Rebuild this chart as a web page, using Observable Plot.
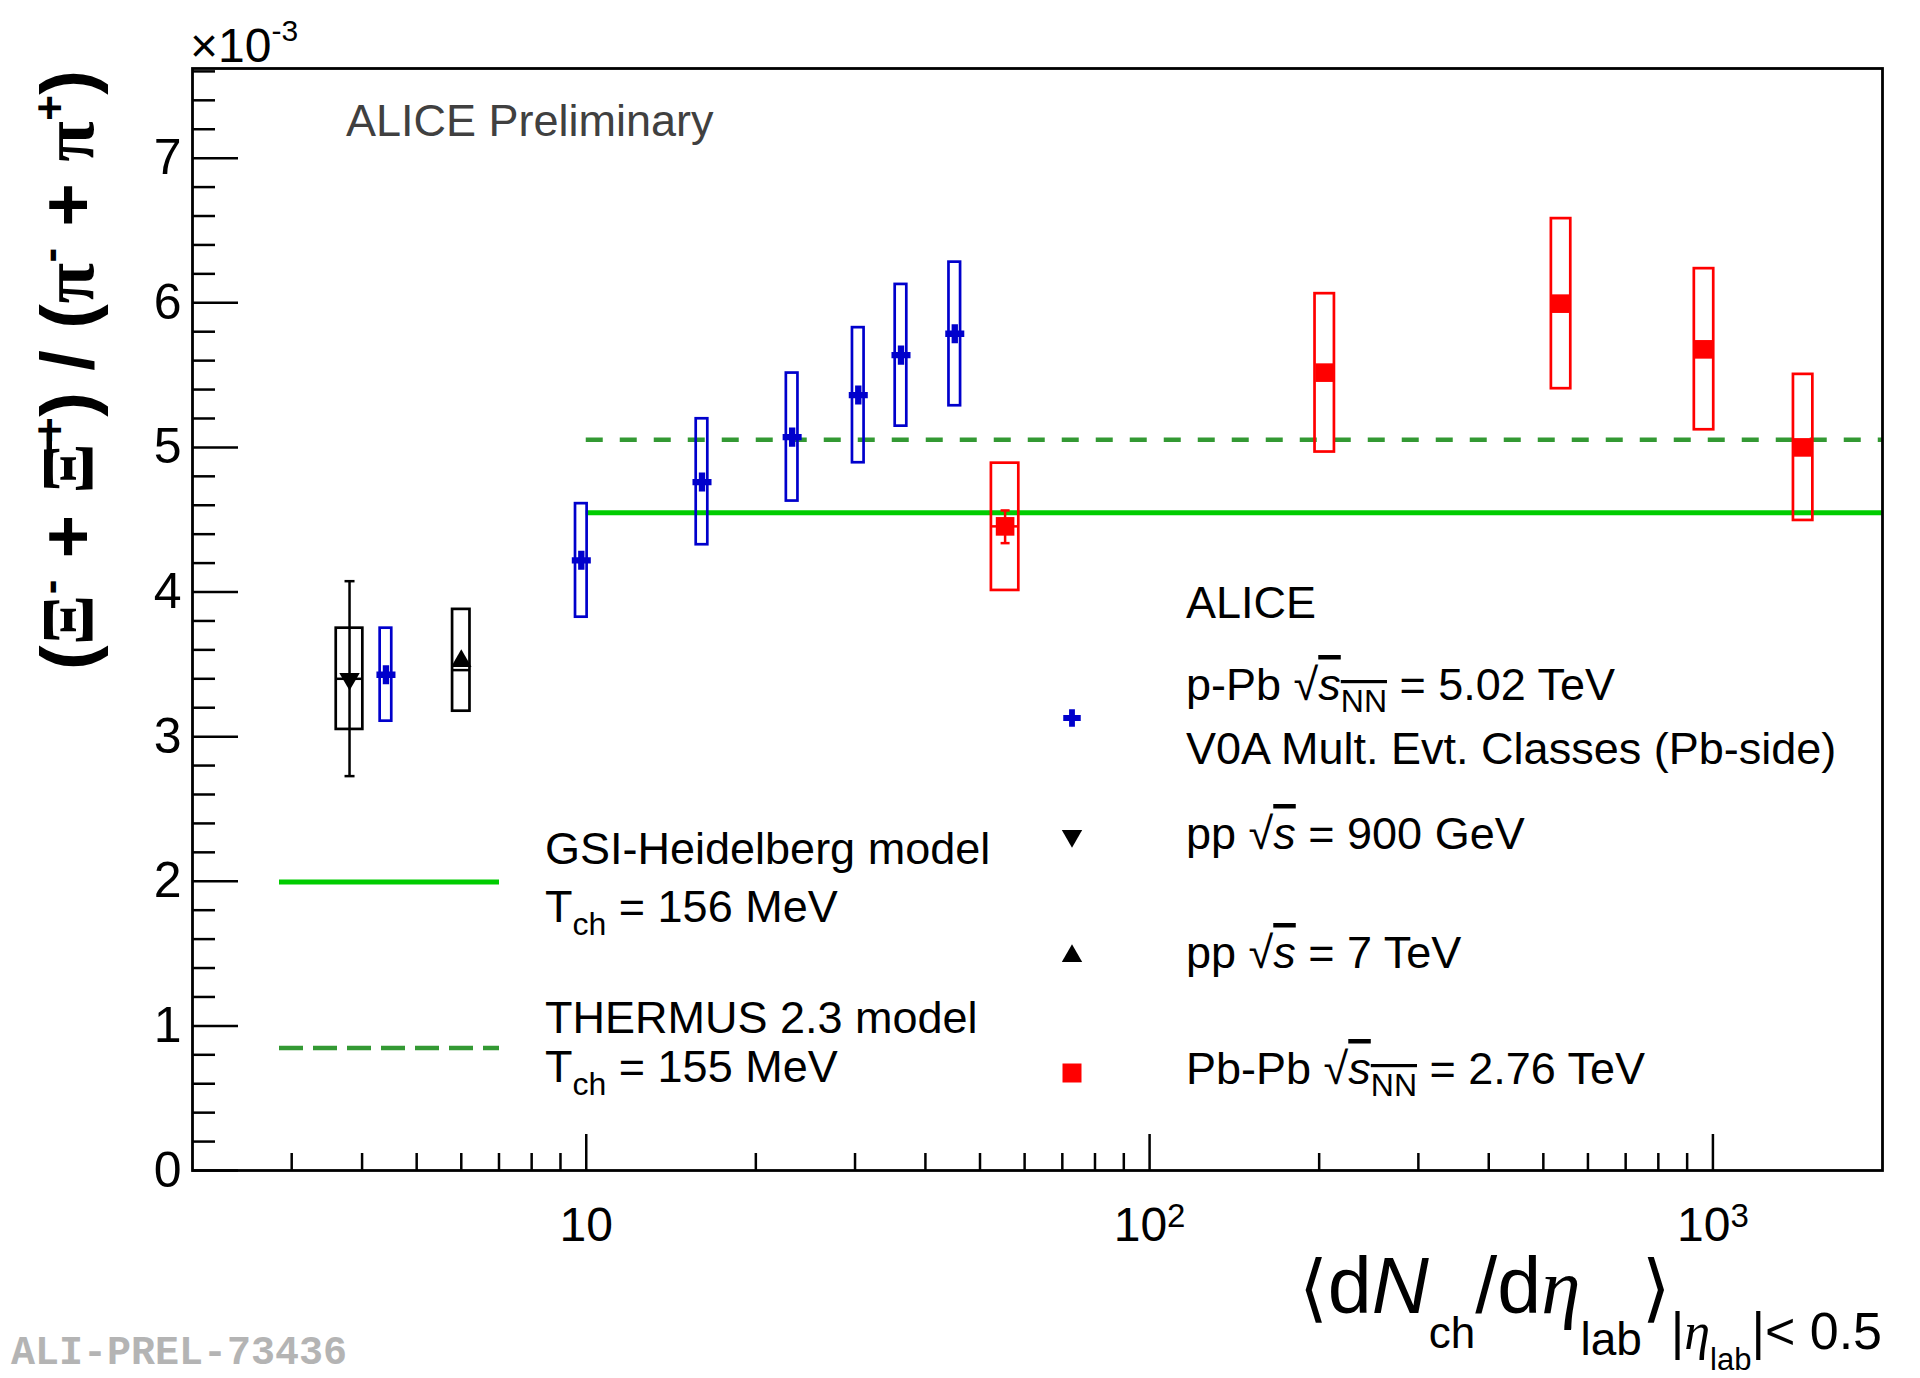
<!DOCTYPE html>
<html>
<head>
<meta charset="utf-8">
<script src="https://cdn.jsdelivr.net/npm/d3@7"></script>
<script src="https://cdn.jsdelivr.net/npm/@observablehq/plot@0.6"></script>
<style>
  html, body { margin: 0; padding: 0; background: #fff; }
  svg { display: block; }
</style>
</head>
<body>
<div id="chart"></div>
<script>
// ---------------- data (values in units of 10^-3) ----------------
// p-Pb sqrt(sNN) = 5.02 TeV, V0A multiplicity classes
const ppbX     = [4.41, 9.80, 16.05, 23.2, 30.4, 36.2, 45.1];
const ppbY     = [3.428, 4.219, 4.760, 5.071, 5.362, 5.638, 5.786];
const ppbSysLo = [3.107, 3.826, 4.327, 4.629, 4.894, 5.147, 5.288];
const ppbSysHi = [3.750, 4.611, 5.198, 5.514, 5.828, 6.127, 6.281];

// pp sqrt(s) = 900 GeV
const pp900X     = [3.80];
const pp900Y     = [3.40];
const pp900StatLo = [2.727];
const pp900StatHi = [4.075];
const pp900SysLo = [3.050];
const pp900SysHi = [3.750];

// pp sqrt(s) = 7 TeV
const pp7X     = [6.00];
const pp7Y     = [3.46];
const pp7SysLo = [3.176];
const pp7SysHi = [3.880];

// Pb-Pb sqrt(sNN) = 2.76 TeV
const pbpbX     = [55.4, 204.6, 537.6, 964.3, 1446];
const pbpbY     = [4.454, 5.517, 5.994, 5.678, 5.000];
const pbpbSysLo = [4.011, 4.968, 5.406, 5.122, 4.495];
const pbpbSysHi = [4.891, 6.063, 6.582, 6.236, 5.505];
const pbpbStatLo = [4.338];   // only visible on the most peripheral point
const pbpbStatHi = [4.564];

// thermal-model predictions
const modelNames = ["GSI-Heidelberg", "THERMUS 2.3"];
const modelY     = [4.548, 5.053];
const modelXFrom = [10, 10];
const modelXTo   = [2000, 2000];

// axes
const xDomain = [2, 2000];
const yDomain = [0, 7.62];
const xMajorTicks = [10, 100, 1000];
const xMajorLabels = ["10", "10^2", "10^3"];
const xMinorTicks = [3,4,5,6,7,8,9,20,30,40,50,60,70,80,90,200,300,400,500,600,700,800,900];
const yMajorTicks = [0,1,2,3,4,5,6,7];
const yMinorTicks = d3.range(0, 7.61, 0.2).map(v => +v.toFixed(1)).filter(v => Math.abs(v - Math.round(v)) > 1e-6);

// ---------------- tables built from arrays ----------------
const ppb = ppbX.map((x, i) => ({x, y: ppbY[i], lo: ppbSysLo[i], hi: ppbSysHi[i]}));
const pp900 = pp900X.map((x, i) => ({x, y: pp900Y[i], lo: pp900SysLo[i], hi: pp900SysHi[i], slo: pp900StatLo[i], shi: pp900StatHi[i]}));
const pp7 = pp7X.map((x, i) => ({x, y: pp7Y[i], lo: pp7SysLo[i], hi: pp7SysHi[i]}));
const pbpb = pbpbX.map((x, i) => ({x, y: pbpbY[i], lo: pbpbSysLo[i], hi: pbpbSysHi[i], i}));
const pbpbStat = pbpbStatLo.map((lo, i) => ({x: pbpbX[i], y: pbpbY[i], slo: lo, shi: pbpbStatHi[i]}));
const models = modelNames.map((name, i) => ({name, y: modelY[i], x1: modelXFrom[i], x2: modelXTo[i]}));

const BLUE = "#0000cc", RED = "#ff0000", GREEN = "#00cc00", DGREEN = "#339933";

// horizontal line symbol (error-bar caps); r = half length
const hline = {draw(ctx, size) { const r = Math.sqrt(size / Math.PI); ctx.moveTo(-r, 0); ctx.lineTo(r, 0); }};

const chart = Plot.plot({
  width: 1920,
  height: 1378,
  marginLeft: 192,
  marginRight: 38,
  marginTop: 68,
  marginBottom: 208,
  style: {fontFamily: "Liberation Sans, Arial, sans-serif", background: "#fff", color: "#000"},
  x: {type: "log", domain: xDomain},
  y: {domain: yDomain},
  marks: [
    // model lines
    Plot.ruleY(models.filter(d => d.name === "GSI-Heidelberg"), {y: "y", x1: "x1", x2: "x2", stroke: GREEN, strokeWidth: 5}),
    Plot.ruleY(models.filter(d => d.name === "THERMUS 2.3"), {y: "y", x1: "x1", x2: "x2", stroke: DGREEN, strokeWidth: 4.5, strokeDasharray: "17,17"}),

    // systematic boxes
    Plot.rect(pp900, {x1: "x", x2: "x", y1: "lo", y2: "hi", fill: "none", stroke: "black", strokeWidth: 2.7, insetLeft: -13.3, insetRight: -13.3}),
    Plot.rect(pp7, {x1: "x", x2: "x", y1: "lo", y2: "hi", fill: "none", stroke: "black", strokeWidth: 2.7, insetLeft: -8.7, insetRight: -8.7}),
    Plot.rect(ppb, {x1: "x", x2: "x", y1: "lo", y2: "hi", fill: "none", stroke: BLUE, strokeWidth: 2.7, insetLeft: -5.8, insetRight: -5.8}),
    Plot.rect(pbpb.filter(d => d.i === 0), {x1: "x", x2: "x", y1: "lo", y2: "hi", fill: "none", stroke: RED, strokeWidth: 2.7, insetLeft: -13.7, insetRight: -13.7}),
    Plot.rect(pbpb.filter(d => d.i > 0), {x1: "x", x2: "x", y1: "lo", y2: "hi", fill: "none", stroke: RED, strokeWidth: 2.7, insetLeft: -9.7, insetRight: -9.7}),

    // statistical error bars
    Plot.ruleX(pp900, {x: "x", y1: "slo", y2: "shi", stroke: "black", strokeWidth: 2.5}),
    Plot.dot(pp900, {x: "x", y: "slo", symbol: hline, r: 5, fill: "none", stroke: "black", strokeWidth: 2.5}),
    Plot.dot(pp900, {x: "x", y: "shi", symbol: hline, r: 5, fill: "none", stroke: "black", strokeWidth: 2.5}),
    Plot.ruleX(pbpbStat, {x: "x", y1: "slo", y2: "shi", stroke: RED, strokeWidth: 2.5}),
    Plot.dot(pbpbStat, {x: "x", y: "slo", symbol: hline, r: 4.5, fill: "none", stroke: RED, strokeWidth: 2.5}),
    Plot.dot(pbpbStat, {x: "x", y: "shi", symbol: hline, r: 4.5, fill: "none", stroke: RED, strokeWidth: 2.5}),
    // horizontal bars at the central values (span of the box)
    Plot.dot(pp900, {x: "x", y: "y", symbol: hline, r: 13.3, fill: "none", stroke: "black", strokeWidth: 2.5}),
    Plot.dot(pp7, {x: "x", y: "y", symbol: hline, r: 8.7, fill: "none", stroke: "black", strokeWidth: 2.5}),
    Plot.dot(pbpbStat, {x: "x", y: "y", symbol: hline, r: 13.7, fill: "none", stroke: RED, strokeWidth: 2.5}),

    // markers
    Plot.dot(ppb, {x: "x", y: "y", symbol: "cross", r: 8, fill: BLUE, stroke: "none"}),
    Plot.dot(pp900, {x: "x", y: "y", symbol: "triangle", rotate: 180, r: 7.6, fill: "black", stroke: "none"}),
    Plot.dot(pp7, {x: "x", y: "y", symbol: "triangle", r: 7.6, dy: -9, fill: "black", stroke: "none"}),
    Plot.dot(pbpb, {x: "x", y: "y", symbol: "square", r: 10.5, fill: RED, stroke: "none"}),

    // axes
    Plot.axisY({ticks: yMinorTicks, tickSize: -23, tickFormat: () => "", label: null, strokeWidth: 2.5}),
    Plot.axisY({ticks: yMajorTicks, tickSize: -46, tickPadding: 57, fontSize: 50, label: null, strokeWidth: 2.5}),
    Plot.axisX({ticks: xMinorTicks, tickSize: -17, tickFormat: () => "", label: null, strokeWidth: 2.5}),
    Plot.axisX({ticks: xMajorTicks, tickSize: -36, tickPadding: 72, fontSize: 48, label: null, strokeWidth: 2.5,
                tickFormat: d => xMajorLabels[xMajorTicks.indexOf(d)]}),
    Plot.frame({stroke: "black", strokeWidth: 2.8})
  ]
});

document.getElementById("chart").appendChild(chart);

const svg = d3.select(chart);

// turn "10^n" tick labels into real superscripts
svg.selectAll("text").each(function() {
  const s = this.textContent;
  if (/^10\^\d$/.test(s)) {
    const exp = s.split("^")[1];
    const t = d3.select(this);
    t.text("10");
    t.append("tspan").attr("dy", "-0.42em").attr("font-size", 33).text(exp);
  }
});

// ---------------- annotations ----------------
const g = svg.append("g").attr("font-family", "Liberation Sans, Arial, sans-serif")
  .attr("fill", "black").attr("text-anchor", "start");

function rich(x, y, parts, attrs = {}) {
  const t = g.append("text").attr("x", x).attr("y", y);
  for (const [k, v] of Object.entries(attrs)) t.attr(k, v);
  for (const p of parts) {
    const s = t.append("tspan").text(p.t);
    if (p.size) s.attr("font-size", p.size);
    if (p.dy) s.attr("dy", p.dy);
    if (p.italic) s.attr("font-style", "italic");
    if (p.family) s.attr("font-family", p.family);
    if (p.weight) s.attr("font-weight", p.weight);
    if (p.deco) s.attr("text-decoration", p.deco);
  }
  return t;
}

// x10^-3
rich(190, 62, [{t: "×10"}, {t: "-3", size: 30, dy: -21}], {"font-size": 48});

// ALICE Preliminary
rich(346, 136, [{t: "ALICE Preliminary"}], {"font-size": 45, fill: "#404040"});

// watermark
g.append("text").attr("x", 11).attr("y", 1364).attr("font-family", "Liberation Mono, Courier New, monospace")
  .attr("font-weight", "bold").attr("font-size", 40).attr("fill", "#b4b4b4").text("ALI-PREL-73436");

// y-axis title
rich(0, 0, [
  {t: "("},
  {t: "Ξ", family: "Liberation Serif"},
  {t: "-", size: 44, dy: -28},
  {t: " + ", dy: 28},
  {t: "Ξ̄", family: "Liberation Serif"},
  {t: "+", size: 44, dy: -28},
  {t: ")", dy: 28},
  {t: " / "},
  {t: "("},
  {t: "π", family: "Liberation Serif"},
  {t: "-", size: 44, dy: -28},
  {t: " + ", dy: 28},
  {t: "π", family: "Liberation Serif"},
  {t: "+", size: 44, dy: -28},
  {t: ")", dy: 28}
], {"font-size": 74, "font-weight": "bold", "text-anchor": "middle", transform: "translate(93,370) rotate(-90)",
    textLength: 600, lengthAdjust: "spacing"});

// x-axis title
rich(1882, 1313, [
  {t: "⟨", size: 74, family: "DejaVu Sans"},
  {t: "d"},
  {t: "N", italic: true},
  {t: "ch", size: 44, dy: 35},
  {t: "/d", dy: -35},
  {t: "η", italic: true, family: "Liberation Serif"},
  {t: "lab", size: 46, dy: 42},
  {t: "⟩", size: 74, dy: -42, family: "DejaVu Sans"},
  {t: "|", size: 52, dy: 36},
  {t: "η", size: 52, italic: true, family: "Liberation Serif"},
  {t: "lab", size: 31, dy: 21},
  {t: "|< 0.5", size: 52, dy: -21}
], {"font-size": 79, "text-anchor": "end"});

// left legend (models)
g.append("line").attr("x1", 279).attr("x2", 499).attr("y1", 882).attr("y2", 882).attr("stroke", GREEN).attr("stroke-width", 5);
g.append("line").attr("x1", 279).attr("x2", 499).attr("y1", 1048).attr("y2", 1048).attr("stroke", DGREEN)
  .attr("stroke-width", 4.5).attr("stroke-dasharray", "24,10");
rich(545, 864, [{t: "GSI-Heidelberg model"}], {"font-size": 45});
rich(545, 922, [{t: "T"}, {t: "ch", size: 32, dy: 13}, {t: " = 156 MeV", dy: -13}], {"font-size": 45});
rich(545, 1033, [{t: "THERMUS 2.3 model"}], {"font-size": 45});
rich(545, 1082, [{t: "T"}, {t: "ch", size: 32, dy: 13}, {t: " = 155 MeV", dy: -13}], {"font-size": 45});

// right legend (data)
rich(1186, 618, [{t: "ALICE"}], {"font-size": 45});
rich(1186, 700, [{t: "p-Pb √"}, {t: "s", italic: true, deco: "overline"}, {t: "NN", size: 32, dy: 12, deco: "overline"}, {t: " = 5.02 TeV", dy: -12}], {"font-size": 45});
rich(1186, 764, [{t: "V0A Mult. Evt. Classes (Pb-side)"}], {"font-size": 45});
rich(1186, 849, [{t: "pp √"}, {t: "s", italic: true, deco: "overline"}, {t: " = 900 GeV"}], {"font-size": 45});
rich(1186, 968, [{t: "pp √"}, {t: "s", italic: true, deco: "overline"}, {t: " = 7 TeV"}], {"font-size": 45});
rich(1186, 1084, [{t: "Pb-Pb √"}, {t: "s", italic: true, deco: "overline"}, {t: "NN", size: 32, dy: 12, deco: "overline"}, {t: " = 2.76 TeV", dy: -12}], {"font-size": 45});

const sym = (type, area) => d3.symbol(type, area)();
g.append("path").attr("d", sym(d3.symbolCross, 170)).attr("transform", "translate(1072,718)").attr("fill", BLUE);
g.append("path").attr("d", sym(d3.symbolTriangle, 180)).attr("transform", "translate(1072,836) rotate(180)").attr("fill", "black");
g.append("path").attr("d", sym(d3.symbolTriangle, 180)).attr("transform", "translate(1072,956)").attr("fill", "black");
g.append("path").attr("d", sym(d3.symbolSquare, 361)).attr("transform", "translate(1072,1073)").attr("fill", RED);
</script>
</body>
</html>
